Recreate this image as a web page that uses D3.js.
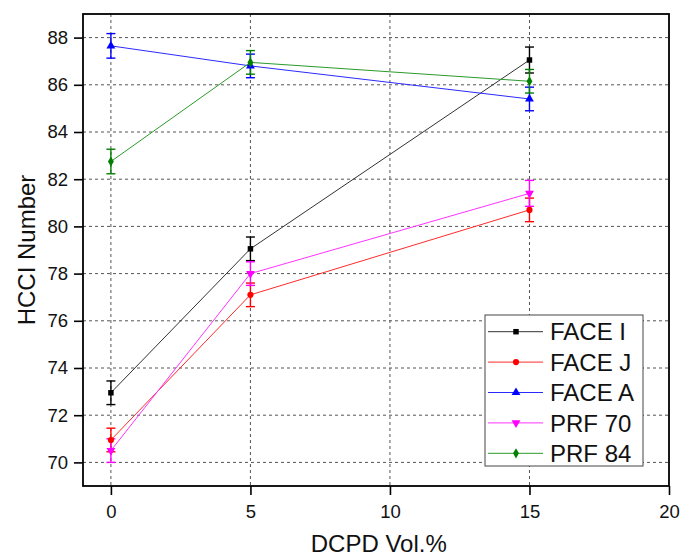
<!DOCTYPE html>
<html>
<head>
<meta charset="utf-8">
<script src="https://cdn.jsdelivr.net/npm/d3@7"></script>
<style>
  body { margin: 0; background: #fff; }
  svg { display: block; font-family: "Liberation Sans", Arial, sans-serif; }
</style>
</head>
<body>
<svg id="chart" width="693" height="557"></svg>
<script>
/*** DATA ***/
var dcpd = [0, 5, 15];
var seriesNames = ["FACE I", "FACE J", "FACE A", "PRF 70", "PRF 84"];
var faceI  = [72.95, 79.05, 87.05];
var faceJ  = [70.95, 77.1, 80.7];
var faceA  = [87.65, 86.8, 85.4];
var prf70  = [70.5, 78.0, 81.4];
var prf84  = [82.75, 86.95, 86.15];
var errI   = [0.5, 0.5, 0.55];
var errJ   = [0.5, 0.5, 0.5];
var errA   = [0.52, 0.5, 0.5];
var err70  = [0.5, 0.5, 0.55];
var err84  = [0.52, 0.5, 0.5];
var xTicks = [0, 5, 10, 15, 20];
var yTicks = [70, 72, 74, 76, 78, 80, 82, 84, 86, 88];

/*** SETUP ***/
var margin = {top: 14, right: 24, bottom: 71, left: 83},
    width = 693 - margin.left - margin.right,
    height = 557 - margin.top - margin.bottom;

var svg = d3.select("#chart");
var g = svg.append("g")
  .attr("transform", "translate(" + margin.left + "," + margin.top + ")");

var x = d3.scaleLinear().domain([-1, 20]).range([0, width]);
var y = d3.scaleLinear().domain([69, 89]).range([height, 0]);

var series = [
  {name: seriesNames[0], vals: faceI, err: errI, color: "#000000", line: "#333", shape: d3.symbolSquare, size: 30, rot: 0},
  {name: seriesNames[1], vals: faceJ, err: errJ, color: "#ff0000", line: "#ff2a2a", shape: d3.symbolCircle, size: 30, rot: 0},
  {name: seriesNames[2], vals: faceA, err: errA, color: "#0000ff", line: "#2a2aff", shape: d3.symbolTriangle, size: 34, rot: 0},
  {name: seriesNames[3], vals: prf70, err: err70, color: "#ff00ff", line: "#ff33ff", shape: d3.symbolTriangle, size: 34, rot: 180},
  {name: seriesNames[4], vals: prf84, err: err84, color: "#008000", line: "#2a9a2a", shape: d3.symbolDiamond, size: 30, rot: 0}
];

// Grid lines
g.append("g").selectAll("line").data(yTicks.slice()).enter()
  .append("line")
    .attr("x1", 0).attr("x2", width)
    .attr("y1", d => y(d)).attr("y2", d => y(d))
    .attr("stroke", "#555").attr("stroke-width", 1)
    .attr("stroke-dasharray", "3,3");
g.append("g").selectAll("line").data(xTicks.filter(d => d < 20)).enter()
  .append("line")
    .attr("x1", d => x(d)).attr("x2", d => x(d))
    .attr("y1", 0).attr("y2", height)
    .attr("stroke", "#555").attr("stroke-width", 1)
    .attr("stroke-dasharray", "3,3");

// Series lines
var line = d3.line().x((d, i) => x(dcpd[i])).y(d => y(d));
g.append("g").selectAll("path").data(series).enter()
  .append("path")
    .attr("d", s => line(s.vals))
    .attr("fill", "none")
    .attr("stroke", s => s.line)
    .attr("stroke-width", 1);

// Error bars
var cap = 4.5;
series.forEach(s => {
  var eg = g.append("g").attr("stroke", s.color).attr("stroke-width", 1.4);
  s.vals.forEach((v, i) => {
    var cx = x(dcpd[i]), lo = y(v - s.err[i]), hi = y(v + s.err[i]);
    eg.append("line").attr("x1", cx).attr("x2", cx).attr("y1", lo).attr("y2", hi);
    eg.append("line").attr("x1", cx - cap).attr("x2", cx + cap).attr("y1", lo).attr("y2", lo);
    eg.append("line").attr("x1", cx - cap).attr("x2", cx + cap).attr("y1", hi).attr("y2", hi);
  });
});

// Markers
series.forEach(s => {
  g.append("g").selectAll("path").data(s.vals).enter()
    .append("path")
      .attr("d", d3.symbol().type(s.shape).size(s.size))
      .attr("transform", (d, i) => "translate(" + x(dcpd[i]) + "," + y(d) + ") rotate(" + s.rot + ")")
      .attr("fill", s.color);
});

// Axes
var xAxis = g.append("g")
  .attr("transform", "translate(0," + height + ")")
  .call(d3.axisBottom(x).tickValues(xTicks).tickSize(9).tickSizeOuter(0).tickPadding(10));
var yAxis = g.append("g")
  .call(d3.axisLeft(y).tickValues(yTicks).tickSize(9).tickSizeOuter(0).tickPadding(6));
[xAxis, yAxis].forEach(a => {
  a.select(".domain").remove();
  a.selectAll(".tick line").attr("stroke", "#000").attr("stroke-width", 1.6);
  a.selectAll("text").attr("font-size", "18.5px").attr("fill", "#111")
    .attr("font-family", "'Liberation Sans', Arial, sans-serif");
});

// Frame
g.append("rect")
  .attr("x", 0).attr("y", 0).attr("width", width).attr("height", height)
  .attr("fill", "none").attr("stroke", "#000").attr("stroke-width", 1.8);

// Axis titles
svg.append("text")
  .attr("x", margin.left + x(9.6)).attr("y", 552)
  .attr("text-anchor", "middle").attr("font-size", "24px").attr("fill", "#111")
  .text("DCPD Vol.%");
svg.append("text")
  .attr("transform", "translate(35,250) rotate(-90)")
  .attr("text-anchor", "middle").attr("font-size", "24px").attr("fill", "#111")
  .text("HCCI Number");

// Legend
var lx = 485 - margin.left, ly = 315 - margin.top, rowH = 30.4;
var legend = g.append("g").attr("transform", "translate(" + lx + "," + ly + ")");
legend.append("rect")
  .attr("width", 158).attr("height", 151)
  .attr("fill", "#fff").attr("stroke", "#444").attr("stroke-width", 1);
var rows = legend.selectAll("g.row").data(series).enter()
  .append("g").attr("class", "row")
  .attr("transform", (d, i) => "translate(0," + (16.7 + i * rowH) + ")");
rows.append("line")
  .attr("x1", 3).attr("x2", 58).attr("y1", 0).attr("y2", 0)
  .attr("stroke", d => d.line).attr("stroke-width", 1);
rows.append("path")
  .attr("d", d => d3.symbol().type(d.shape).size(d.size)())
  .attr("transform", d => "translate(31,0) rotate(" + d.rot + ")")
  .attr("fill", d => d.color);
rows.append("text")
  .attr("x", 65).attr("dy", "0.36em")
  .attr("font-size", "24px").attr("fill", "#111")
  .text(d => d.name);
</script>
</body>
</html>
